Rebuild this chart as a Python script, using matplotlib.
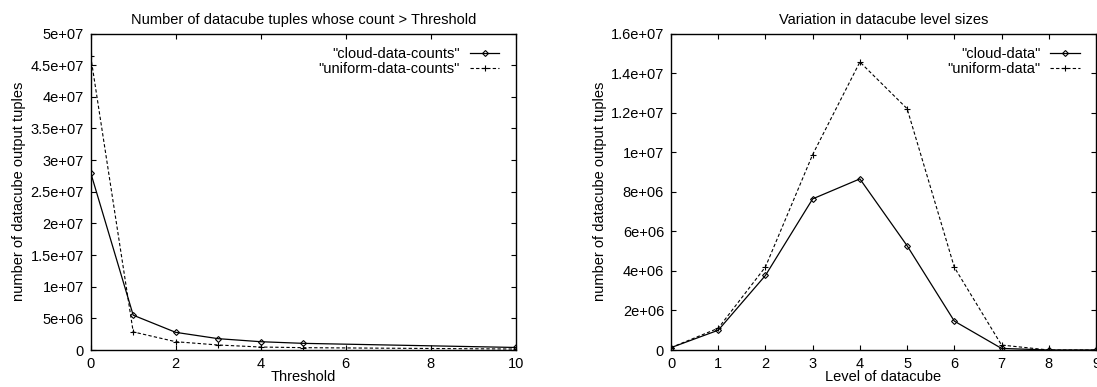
import matplotlib
matplotlib.use("Agg")
import matplotlib.pyplot as plt
from matplotlib.ticker import FuncFormatter

plt.rcParams['font.family'] = ['Liberation Sans', 'DejaVu Sans']
FS = 10.5
plt.rcParams['font.size'] = FS

# Left chart: tuples whose count > threshold
thr_cloud = [0, 1, 2, 3, 4, 5, 10]
cloud_counts = [2.80e7, 5.5e6, 2.79e6, 1.79e6, 1.31e6, 1.05e6, 4.0e5]
thr_uniform = [0, 1, 2, 3, 4, 5, 10]
uniform_counts = [4.64e7, 2.86e6, 1.31e6, 7.9e5, 4.7e5, 3.7e5, 1.5e5]

# Right chart: level sizes
levels = [0, 1, 2, 3, 4, 5, 6, 7, 8, 9]
cloud_data = [1.2e5, 1.0e6, 3.77e6, 7.64e6, 8.65e6, 5.27e6, 1.46e6, 8e4, 0, 0]
uniform_data = [1.2e5, 1.1e6, 4.2e6, 9.88e6, 1.456e7, 1.22e7, 4.18e6, 2.5e5, 0, 0]

left_xticks = [0, 2, 4, 6, 8, 10]
left_yticks = [0, 5e6, 1e7, 1.5e7, 2e7, 2.5e7, 3e7, 3.5e7, 4e7, 4.5e7, 5e7]
right_xticks = [0, 1, 2, 3, 4, 5, 6, 7, 8, 9]
right_yticks = [0, 2e6, 4e6, 6e6, 8e6, 1e7, 1.2e7, 1.4e7, 1.6e7]

W, H = 1097, 387
fig = plt.figure(figsize=(W / 100, H / 100), dpi=100)

def frac(x0, y0, x1, y1):
    return [x0 / W, 1 - y1 / H, (x1 - x0) / W, (y1 - y0) / H]

ax1 = fig.add_axes(frac(90.7, 33.5, 515.7, 350))
ax2 = fig.add_axes(frac(671, 33.5, 1096, 350))

gfmt = FuncFormatter(lambda v, p: '%g' % v)

def style(ax):
    for s in ax.spines.values():
        s.set_linewidth(1.0)
    ax.tick_params(direction='in', length=3.5, width=0.8, top=True, right=True,
                   labelsize=FS, pad=5)
    ax.yaxis.set_major_formatter(gfmt)

leg_kw = dict(loc='upper right', frameon=False, markerfirst=False, fontsize=FS,
              handlelength=2.0, handletextpad=0.7, labelspacing=0.05,
              borderaxespad=0.0)

ax1.plot(thr_cloud, cloud_counts, '-', color='black', lw=0.9, marker='D',
         ms=3.0, mfc='none', mew=0.8, label='"cloud-data-counts"')
ax1.plot(thr_uniform, uniform_counts, '--', color='black', lw=0.8, marker='+',
         ms=4.5, mew=0.8, dashes=(3, 2), label='"uniform-data-counts"')
ax1.set_xlim(0, 10)
ax1.set_ylim(0, 5e7)
ax1.set_xticks(left_xticks)
ax1.set_yticks(left_yticks)
style(ax1)
ax1.set_title('Number of datacube tuples whose count > Threshold', fontsize=FS, pad=7)
ax1.set_xlabel('Threshold', fontsize=FS, labelpad=-1)
ax1.set_ylabel('number of datacube output tuples', fontsize=FS, labelpad=3)
ax1.legend(bbox_to_anchor=(0.975, 0.975), **leg_kw)

ax2.plot(levels, cloud_data, '-', color='black', lw=0.9, marker='D',
         ms=3.0, mfc='none', mew=0.8, label='"cloud-data"')
ax2.plot(levels, uniform_data, '--', color='black', lw=0.8, marker='+',
         ms=4.5, mew=0.8, dashes=(3, 2), label='"uniform-data"')
ax2.set_xlim(0, 9)
ax2.set_ylim(0, 1.6e7)
ax2.set_xticks(right_xticks)
ax2.set_yticks(right_yticks)
style(ax2)
ax2.set_title('Variation in datacube level sizes', fontsize=FS, pad=7)
ax2.set_xlabel('Level of datacube', fontsize=FS, labelpad=-1)
ax2.set_ylabel('number of datacube output tuples', fontsize=FS, labelpad=3)
ax2.legend(bbox_to_anchor=(0.975, 0.975), **leg_kw)

fig.savefig('out.png', dpi=100)
